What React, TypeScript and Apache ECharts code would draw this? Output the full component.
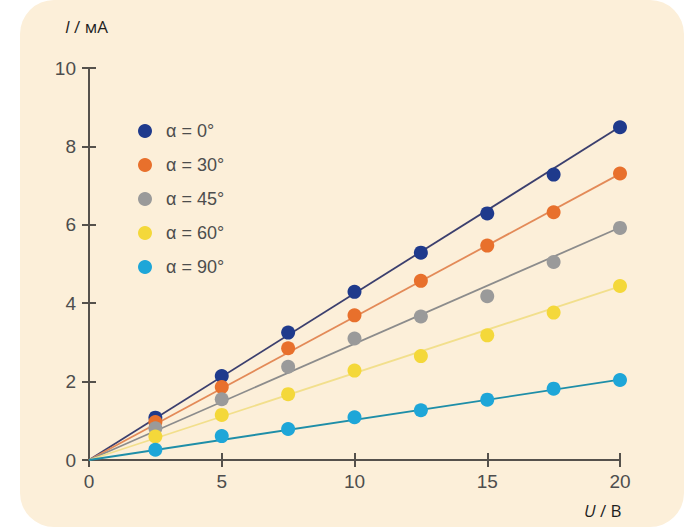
import React, { useEffect, useRef } from "react";
import * as echarts from "echarts";

const voltages = [2.5, 5, 7.5, 10, 12.5, 15, 17.5, 20];
const seriesNames = ["α = 0°", "α = 30°", "α = 45°", "α = 60°", "α = 90°"];
const current0 = [1.08, 2.14, 3.25, 4.29, 5.29, 6.29, 7.28, 8.49];
const current30 = [0.97, 1.86, 2.85, 3.69, 4.57, 5.47, 6.32, 7.31];
const current45 = [0.81, 1.55, 2.38, 3.1, 3.66, 4.18, 5.05, 5.92];
const current60 = [0.6, 1.15, 1.68, 2.28, 2.65, 3.18, 3.76, 4.44];
const current90 = [0.26, 0.61, 0.79, 1.09, 1.27, 1.54, 1.82, 2.04];
// fitted line end values at U = 20 (lines start at origin)
const fitEnd = [8.5, 7.3, 5.93, 4.43, 2.05];
const xTicks = [0, 5, 10, 15, 20];
const yTicks = [0, 2, 4, 6, 8, 10];

const allCurrents = [current0, current30, current45, current60, current90];
const dotColors = ["#1f3a8c", "#e8702c", "#9a9a9a", "#f4d83a", "#1ea6d8"];
const lineColors = ["#3b3f6e", "#e38a58", "#8c8c8c", "#f2df8c", "#1e8ea8"];

export default function App() {
  const ref = useRef<HTMLDivElement>(null);
  useEffect(() => {
    if (!ref.current) return;
    const chart = echarts.init(ref.current, null, { renderer: "svg" });
    const axisColor = "#55514c";
    const labelStyle = {
      color: "#4d4d4d",
      fontSize: 19,
      fontFamily: "Liberation Sans, Arial, sans-serif",
    };
    const baseX = {
      type: "value",
      min: xTicks[0],
      max: xTicks[xTicks.length - 1],
      interval: 5,
      position: "bottom",
      splitLine: { show: false },
    };
    const baseY = {
      type: "value",
      min: yTicks[0],
      max: yTicks[yTicks.length - 1],
      interval: 2,
      position: "left",
      splitLine: { show: false },
    };
    const lineSeries = fitEnd.map((v, i) => ({
      type: "line",
      data: [
        [0, 0],
        [20, v],
      ],
      showSymbol: false,
      symbol: "none",
      lineStyle: { color: lineColors[i], width: 1.8 },
      z: 2,
      silent: true,
    }));
    const scatterSeries = allCurrents.map((arr, i) => ({
      type: "scatter",
      name: seriesNames[i],
      data: arr.map((c, j) => [voltages[j], c]),
      symbol: "circle",
      symbolSize: 14,
      itemStyle: { color: dotColors[i], opacity: 1 },
      z: 3,
    }));
    const nameStyle = {
      fontSize: 17,
      fontFamily: "Open Sans, sans-serif",
      fill: "#1e1e1e",
      verticalAlign: "middle",
    };
    chart.setOption({
      animation: false,
      backgroundColor: "#ffffff",
      graphic: [
        {
          type: "rect",
          shape: { x: 20, y: 0, width: 664, height: 527, r: 34 },
          style: { fill: "#fcefd9" },
          z: -10,
          silent: true,
        },
        {
          type: "text",
          x: 584,
          y: 510,
          style: {
            text: "{i|U} / В",
            rich: { i: { ...nameStyle, fontStyle: "italic" } },
            ...nameStyle,
          },
        },
        {
          type: "text",
          x: 65,
          y: 26,
          style: {
            text: "{i|I} / мА",
            rich: { i: { ...nameStyle, fontStyle: "italic" } },
            ...nameStyle,
          },
        },
      ],
      legend: {
        orient: "vertical",
        left: 133,
        top: 117,
        data: seriesNames,
        icon: "circle",
        itemWidth: 14,
        itemHeight: 14,
        itemGap: 16,
        textStyle: {
          color: "#4d4d4d",
          fontSize: 18,
          fontFamily: "Liberation Sans, Arial, sans-serif",
          padding: [0, 0, 0, 9],
        },
      },
      grid: { left: 89, right: 67, top: 68, bottom: 69 },
      xAxis: [
        {
          ...baseX,
          axisLine: { show: true, lineStyle: { color: axisColor, width: 2 } },
          axisTick: { show: true, length: 7, lineStyle: { color: axisColor, width: 2 } },
          axisLabel: { ...labelStyle, margin: 12 },
        },
        {
          ...baseX,
          axisLine: { show: false },
          axisTick: { show: true, inside: true, length: 7, lineStyle: { color: axisColor, width: 2 } },
          axisLabel: { show: false },
        },
      ],
      yAxis: [
        {
          ...baseY,
          axisLine: { show: true, lineStyle: { color: axisColor, width: 2 } },
          axisTick: { show: true, length: 7, lineStyle: { color: axisColor, width: 2 } },
          axisLabel: { ...labelStyle, margin: 13 },
        },
        {
          ...baseY,
          axisLine: { show: false },
          axisTick: { show: true, inside: true, length: 7, lineStyle: { color: axisColor, width: 2 } },
          axisLabel: { show: false },
        },
      ],
      series: [...lineSeries, ...scatterSeries],
    });
    return () => chart.dispose();
  }, []);
  return (
    <div
      ref={ref}
      style={{ position: "fixed", left: 0, top: 0, width: 687, height: 529 }}
    />
  );
}
